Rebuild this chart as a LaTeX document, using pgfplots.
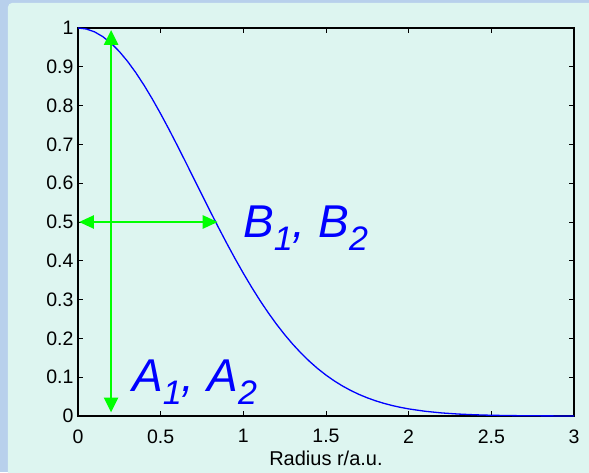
\documentclass[border=0pt]{standalone}
\usepackage{fontspec}
\setmainfont{Liberation Sans}
\usepackage{pgfplots}
\pgfplotsset{compat=1.18}
\usetikzlibrary{arrows.meta}
\definecolor{outerblue}{HTML}{B8D0EC}
\definecolor{panel}{HTML}{DDF5F0}
\definecolor{mgreen}{HTML}{00FF00}

\newcommand{\sub}[1]{\raisebox{-13pt}{\fontsize{34}{34}\selectfont #1}}

\begin{document}
\begin{tikzpicture}[x=1pt,y=1pt]
\useasboundingbox (-78,-56) rectangle (511,416);
\fill[outerblue] (-78,-56) rectangle (511,416);
\fill[panel,rounded corners=4pt] (-70,-80) rectangle (540,413);
\begin{axis}[
    at={(0,0)}, anchor=south west,
    scale only axis, width=496pt, height=388pt,
    xmin=0, xmax=3, ymin=0, ymax=1,
    xtick={0,0.5,1,1.5,2,2.5,3},
    ytick={0,0.1,0.2,0.3,0.4,0.5,0.6,0.7,0.8,0.9,1},
    tick align=inside,
    major tick length=5pt,
    tick style={black,line width=1pt},
    axis line style={black,line width=1.2pt},
    /pgf/number format/assume math mode=true,
    tick label style={font=\fontsize{19.5}{22}\selectfont},
    xticklabel style={yshift=-10pt},
    yticklabel style={xshift=-1pt},
    xlabel={Radius r/a.u.},
    xlabel style={font=\fontsize{20}{24}\selectfont, yshift=-1pt},
]
% exp(-r^2)
\addplot[blue,line width=1.3pt] coordinates {
(0,1) (0.05,0.997503) (0.1,0.990050) (0.15,0.977751) (0.2,0.960789)
(0.25,0.939413) (0.3,0.913931) (0.35,0.884706) (0.4,0.852144) (0.45,0.816686)
(0.5,0.778801) (0.55,0.738968) (0.6,0.697676) (0.65,0.655406) (0.7,0.612626)
(0.75,0.569783) (0.8,0.527292) (0.85,0.485537) (0.9,0.444858) (0.95,0.405555)
(1.0,0.367879) (1.05,0.332067) (1.1,0.298197) (1.15,0.266491) (1.2,0.236928)
(1.25,0.209611) (1.3,0.184520) (1.35,0.161635) (1.4,0.140858) (1.45,0.122138)
(1.5,0.105399) (1.55,0.090492) (1.6,0.077305) (1.65,0.065729) (1.7,0.055576)
(1.75,0.046771) (1.8,0.039164) (1.85,0.032630) (1.9,0.027052) (1.95,0.022315)
(2.0,0.018316) (2.1,0.012155) (2.2,0.007907) (2.3,0.005042) (2.4,0.003151)
(2.5,0.001930) (2.6,0.001159) (2.7,0.000682) (2.8,0.000394) (2.9,0.000223)
(3.0,0.000123)
};
% arrows
\addplot[mgreen,line width=2.8pt,
  {Triangle[length=15pt,width=14pt]}-{Triangle[length=15pt,width=14pt]}]
  coordinates {(0.2,0.009) (0.2,0.995)};
\addplot[mgreen,line width=2.6pt,
  {Triangle[length=15pt,width=13pt]}-{Triangle[length=15pt,width=13pt]}]
  coordinates {(0.006,0.5) (0.845,0.5)};
\node[anchor=base west,inner sep=0pt,text=blue,
  font=\fontsize{46}{50}\selectfont\itshape]
  at (axis cs:0.998,0.459) {B\sub{1}, B\sub{2}};
\node[anchor=base west,inner sep=0pt,text=blue,
  font=\fontsize{46}{50}\selectfont\itshape]
  at (axis cs:0.327,0.062) {A\sub{1}, A\sub{2}};
\end{axis}
\end{tikzpicture}
\end{document}
